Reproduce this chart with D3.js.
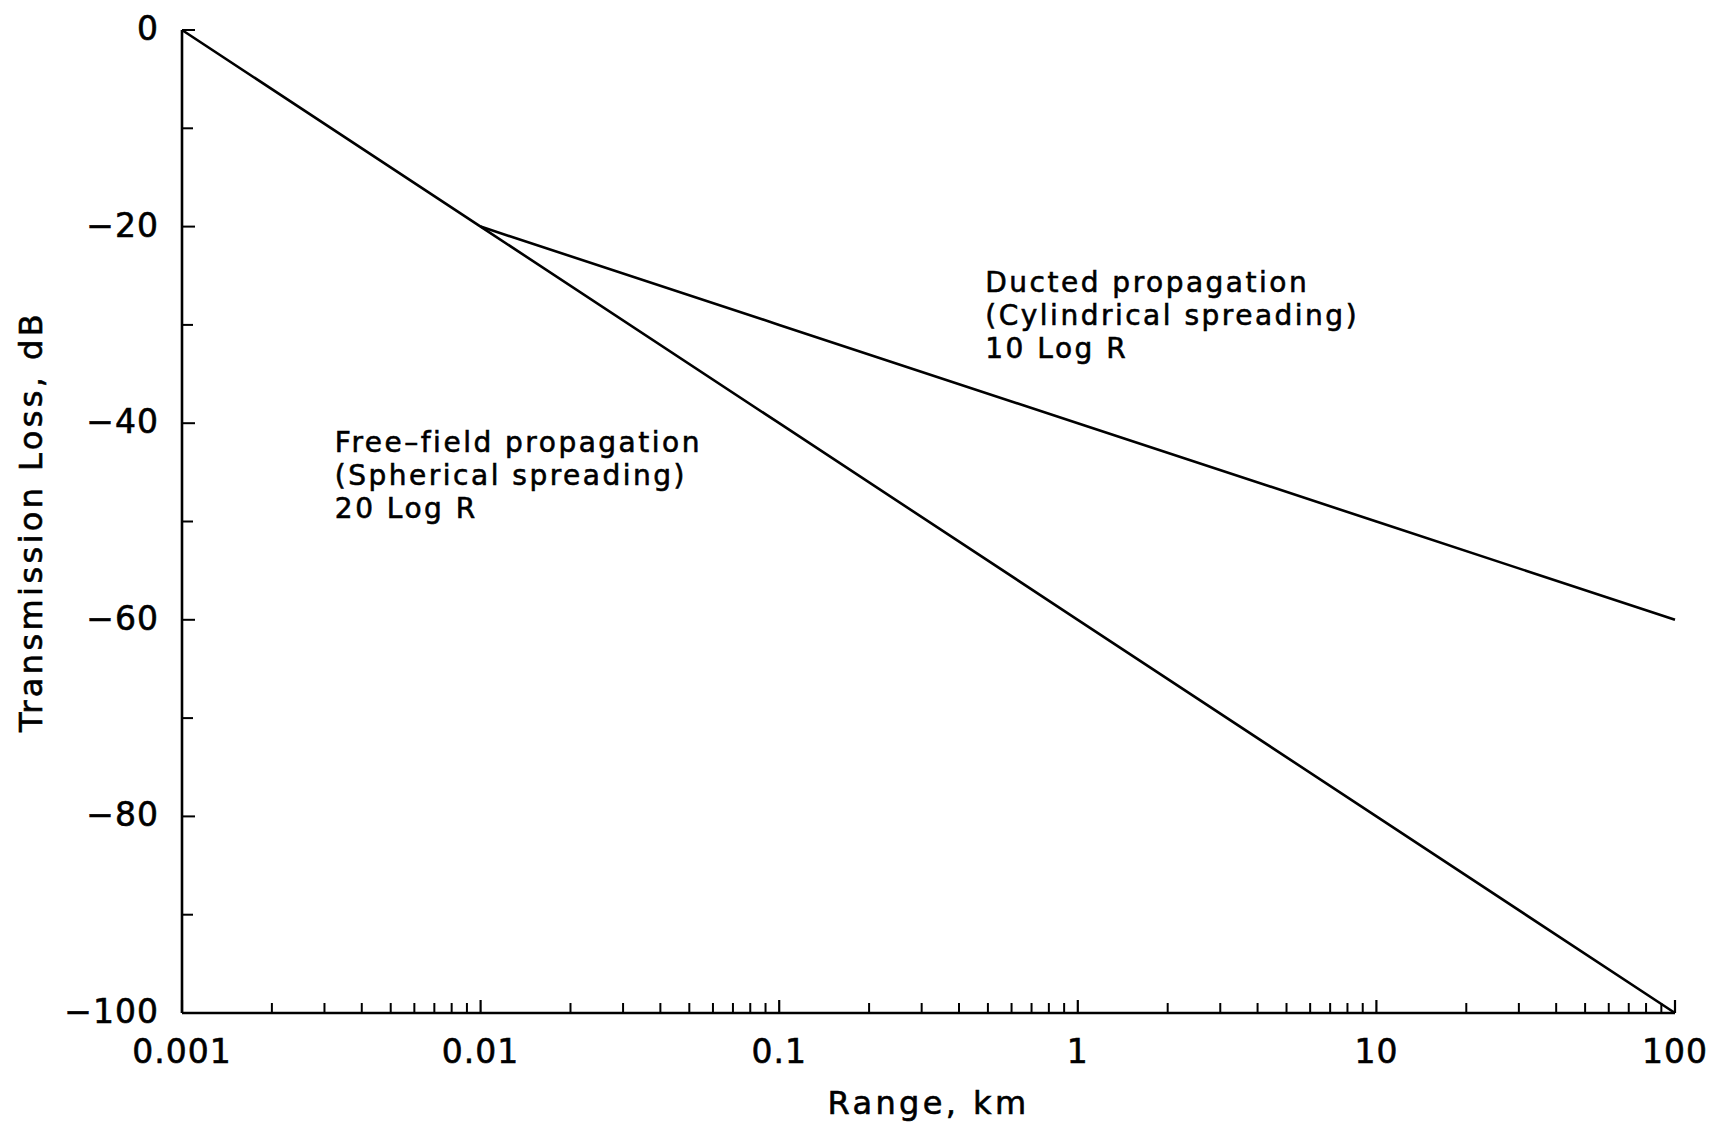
<!DOCTYPE html>
<html>
<head>
<meta charset="utf-8">
<script src="https://cdn.jsdelivr.net/npm/d3@7"></script>
<style>
  html, body { margin: 0; padding: 0; background: #fff; }
  svg { display: block; }
  text { font-family: "DejaVu Sans", sans-serif; fill: #000; stroke: #000; stroke-width: 0.6px; }
</style>
</head>
<body>
<svg id="chart" width="1722" height="1126"></svg>
<script>
// Range (km) and transmission loss (dB) for the two spreading laws
const sphericalRange = [0.001, 0.01, 0.1, 1, 10, 100];
const sphericalLoss = [0, -20, -40, -60, -80, -100];
const cylindricalRange = [0.01, 0.1, 1, 10, 100];
const cylindricalLoss = [-20, -30, -40, -50, -60];

const xTickValues = [0.001, 0.01, 0.1, 1, 10, 100];
const xTickLabels = ["0.001", "0.01", "0.1", "1", "10", "100"];
const yTickValues = [0, -20, -40, -60, -80, -100];
const yTickLabels = ["0", "\u221220", "\u221240", "\u221260", "\u221280", "\u2212100"];

const annotations = [
  { x: 0.00325, y: -42.9, lines: ["Free\u2013field propagation", "(Spherical spreading)", "20 Log R"] },
  { x: 0.49, y: -26.7, lines: ["Ducted propagation", "(Cylindrical spreading)", "10 Log R"] }
];

const svg = d3.select("#chart");
const plotLeft = 182, plotRight = 1675, plotTop = 30, plotBottom = 1013;

const x = d3.scaleLog().domain([0.001, 100]).range([plotLeft, plotRight]);
const y = d3.scaleLinear().domain([-100, 0]).range([plotBottom, plotTop]);

const stroke = 2.6;

// Axis lines
svg.append("line").attr("x1", plotLeft).attr("x2", plotLeft).attr("y1", plotTop).attr("y2", plotBottom)
  .attr("stroke", "#000").attr("stroke-width", stroke);
svg.append("line").attr("x1", plotLeft).attr("x2", plotRight).attr("y1", plotBottom).attr("y2", plotBottom)
  .attr("stroke", "#000").attr("stroke-width", stroke);

// X ticks: decades and the 2..9 minor ticks, drawn inward
const xMinor = [];
for (let e = -3; e < 2; e++) for (let m = 2; m <= 9; m++) xMinor.push(m * Math.pow(10, e));
svg.append("g").selectAll("line").data(xMinor).join("line")
  .attr("x1", d => x(d)).attr("x2", d => x(d))
  .attr("y1", plotBottom).attr("y2", plotBottom - 10)
  .attr("stroke", "#000").attr("stroke-width", 2);
svg.append("g").selectAll("line").data(xTickValues).join("line")
  .attr("x1", d => x(d)).attr("x2", d => x(d))
  .attr("y1", plotBottom).attr("y2", plotBottom - 13)
  .attr("stroke", "#000").attr("stroke-width", 2.2);
svg.append("g").selectAll("text").data(xTickValues).join("text")
  .attr("x", d => x(d)).attr("y", plotBottom + 50)
  .attr("text-anchor", "middle")
  .attr("font-size", 33).attr("letter-spacing", 1)
  .text((d, i) => xTickLabels[i]);

// Y ticks every 10 dB, labels every 20 dB
const yTicks = d3.range(0, -101, -10);
svg.append("g").selectAll("line").data(yTicks).join("line")
  .attr("x1", plotLeft).attr("x2", d => plotLeft + (d % 20 === 0 ? 13 : 11))
  .attr("y1", d => y(d)).attr("y2", d => y(d))
  .attr("stroke", "#000").attr("stroke-width", 2);
svg.append("g").selectAll("text").data(yTickValues).join("text")
  .attr("x", plotLeft - 23).attr("y", d => y(d) + 10)
  .attr("text-anchor", "end")
  .attr("font-size", 33).attr("letter-spacing", 1)
  .text((d, i) => yTickLabels[i]);

// Axis titles
svg.append("text")
  .attr("x", (plotLeft + plotRight) / 2).attr("y", 1114)
  .attr("text-anchor", "middle").attr("font-size", 32).attr("letter-spacing", 3.4)
  .text("Range, km");
svg.append("text")
  .attr("transform", `translate(42,${(plotTop + plotBottom) / 2}) rotate(-90)`)
  .attr("text-anchor", "middle").attr("font-size", 32).attr("letter-spacing", 3.4)
  .text("Transmission Loss, dB");

// Propagation loss lines
const line = d3.line().x(d => x(d[0])).y(d => y(d[1]));
svg.append("path")
  .datum(sphericalRange.map((r, i) => [r, sphericalLoss[i]]))
  .attr("d", line).attr("fill", "none").attr("stroke", "#000").attr("stroke-width", stroke);
svg.append("path")
  .datum(cylindricalRange.map((r, i) => [r, cylindricalLoss[i]]))
  .attr("d", line).attr("fill", "none").attr("stroke", "#000").attr("stroke-width", stroke);

// Curve annotations
annotations.forEach(a => {
  const t = svg.append("text")
    .attr("x", x(a.x)).attr("y", y(a.y))
    .attr("font-size", 28).attr("letter-spacing", 2.5);
  a.lines.forEach((s, i) => {
    t.append("tspan").attr("x", x(a.x)).attr("dy", i === 0 ? 0 : 33).text(s);
  });
});
</script>
</body>
</html>
